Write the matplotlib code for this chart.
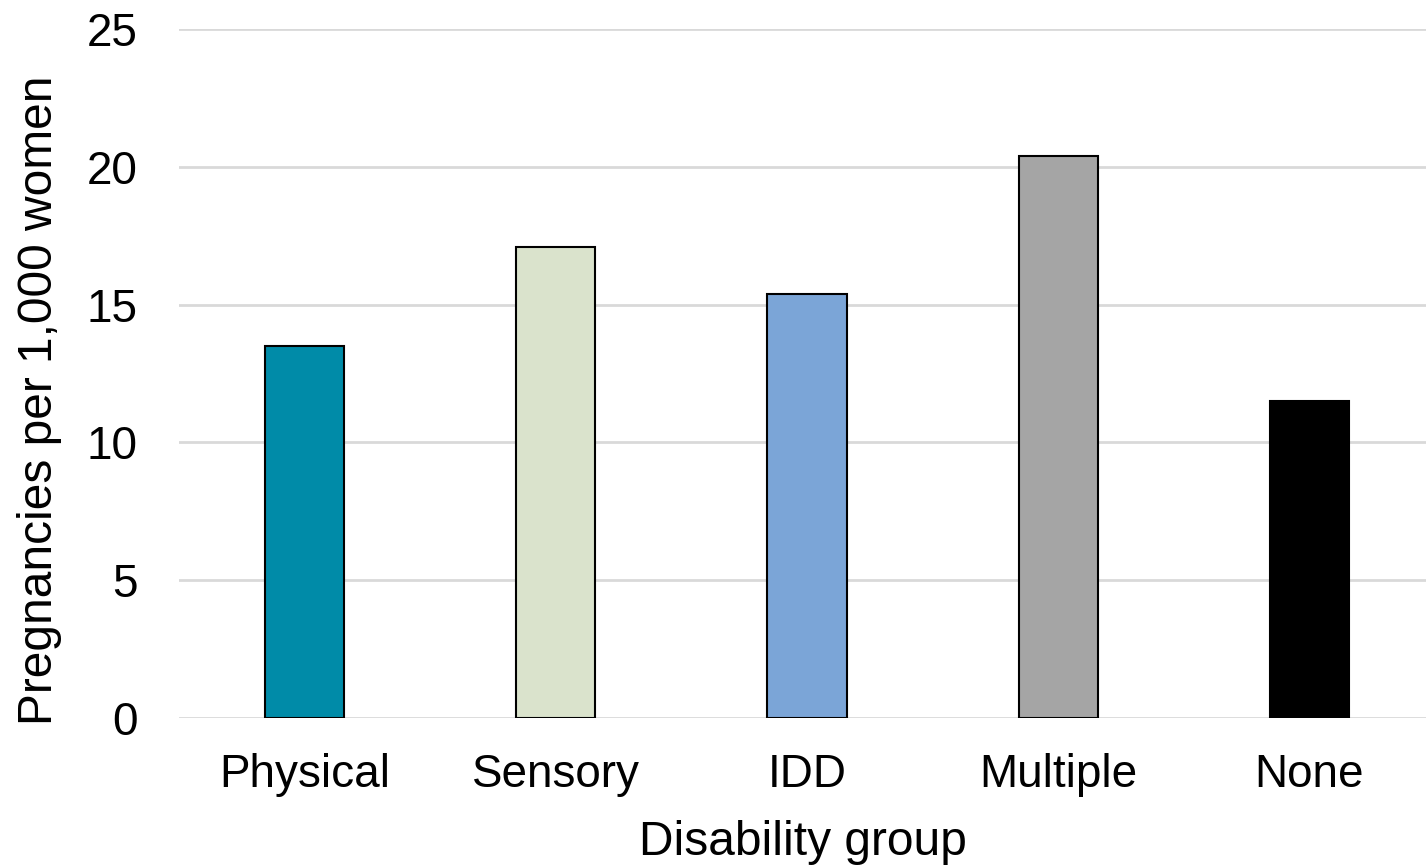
import matplotlib
matplotlib.use("Agg")
import matplotlib.pyplot as plt

categories = ["Physical", "Sensory", "IDD", "Multiple", "None"]
rates = [13.5, 17.1, 15.4, 20.4, 11.5]
bar_colors = ["#008BA8", "#DAE3CC", "#7BA5D7", "#A5A5A5", "#000000"]
y_ticks = [0, 5, 10, 15, 20, 25]

plt.rcParams["font.family"] = ["Liberation Sans", "DejaVu Sans"]

W, H = 1426, 867
fig = plt.figure(figsize=(W / 100, H / 100), dpi=100)
left_px, bottom_px, top_px = 179, 718, 29
ax = fig.add_axes([left_px / W, 1 - bottom_px / H, 1 - left_px / W,
                   (bottom_px - top_px) / H])

x = list(range(len(categories)))
ax.bar(x, rates, width=0.315, color=bar_colors, edgecolor="black",
       linewidth=1.5, zorder=3)

ax.set_xlim(-0.5, (W - 180) / 251 - 0.5)
ax.set_ylim(0, 25)
ax.set_yticks(y_ticks)
ax.set_xticks(x)
ax.set_xticklabels(categories)

ax.yaxis.grid(True, color="#D9D9D9", linewidth=2, zorder=0)
ax.set_axisbelow(True)
for s in ax.spines.values():
    s.set_visible(False)

ax.tick_params(axis="both", length=0, labelsize=33, colors="black")
ax.tick_params(axis="y", pad=30)
ax.tick_params(axis="x", pad=25)

ax.set_ylabel("Pregnancies per 1,000 women", fontsize=34.5)
ax.yaxis.set_label_coords((62 - left_px) / (W - left_px),
                          (bottom_px - 400) / (bottom_px - top_px))
ax.set_xlabel("Disability group", fontsize=34.5, labelpad=17)

fig.savefig("out.png", dpi=100)
